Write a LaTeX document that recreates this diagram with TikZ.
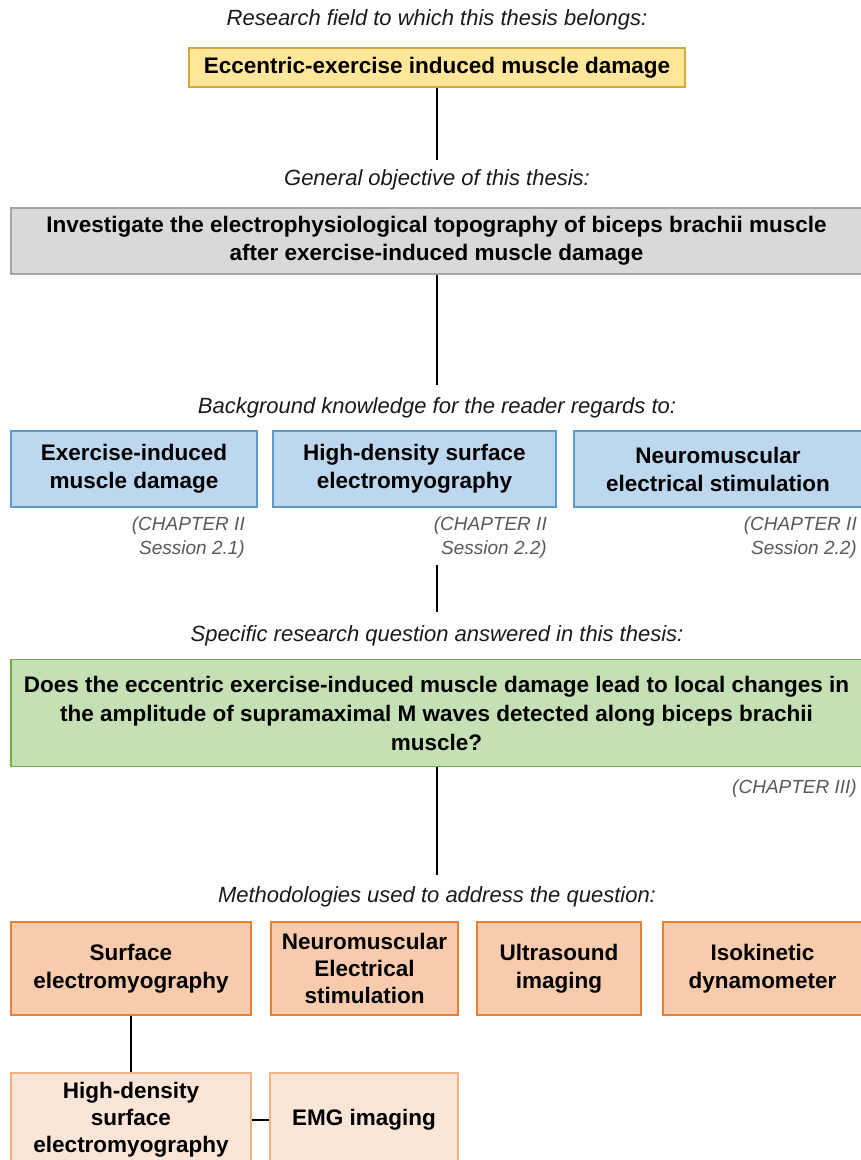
\documentclass[tikz,border=0pt]{standalone}
\usepackage{fontspec}
\setmainfont{Liberation Sans}
\definecolor{yfill}{HTML}{FFE699}
\definecolor{ydraw}{HTML}{D6A83A}
\definecolor{gfill}{HTML}{D9D9D9}
\definecolor{gdraw}{HTML}{A5A5A5}
\definecolor{bfill}{HTML}{BDD7EE}
\definecolor{bdraw}{HTML}{5B9BD5}
\definecolor{grfill}{HTML}{C5E0B4}
\definecolor{grdraw}{HTML}{70AD47}
\definecolor{ofill}{HTML}{F8CBAD}
\definecolor{odraw}{HTML}{ED7D31}
\definecolor{lfill}{HTML}{FBE5D6}
\definecolor{ldraw}{HTML}{F4B183}
\definecolor{labcol}{HTML}{1A1A1A}
\definecolor{chcol}{HTML}{595959}
\begin{document}
\begin{tikzpicture}[x=1pt,y=-1pt,
  box/.style={draw, line width=1.3pt, inner sep=0pt, align=center,
    font=\bfseries\fontsize{22.5}{28}\selectfont},
  lab/.style={inner sep=0pt, text=labcol, font=\itshape\fontsize{22}{24}\selectfont},
  chap/.style={inner sep=0pt, align=right, anchor=north east, text=chcol,
    font=\itshape\fontsize{19}{24}\selectfont},
  conn/.style={line width=2pt, black}]
\useasboundingbox (0,0) rectangle (861,1160);
\fill[white] (0,0) rectangle (861,1160);

\node[lab] (lab1) at (437,20) {Research field to which this thesis belongs:};
\node[box, fill=yfill, draw=ydraw, minimum width=496pt, minimum height=39pt] (field) at (437,67.5) {Eccentric-exercise induced muscle damage};

\node[lab] (lab2) at (437,180) {General objective of this thesis:};
\node[box, fill=gfill, draw=gdraw, minimum width=851pt, minimum height=66pt] (obj) at (436.5,241) {Investigate the electrophysiological topography of biceps brachii muscle\\after exercise-induced muscle damage};

\node[lab] (lab3) at (437,408) {Background knowledge for the reader regards to:};
\node[box, fill=bfill, draw=bdraw, minimum width=246pt, minimum height=76pt] (bg1) at (134,469) {Exercise-induced\\muscle damage};
\node[box, fill=bfill, draw=bdraw, minimum width=283pt, minimum height=76pt] (bg2) at (414.5,469) {High-density surface\\electromyography};
\node[box, fill=bfill, draw=bdraw, minimum width=288pt, minimum height=76pt] (bg3) at (718,469) {Neuromuscular\\electrical stimulation};

\node[chap] (ch1) at (245,517) {(CHAPTER II\\Session 2.1)};
\node[chap] (ch2) at (547,517) {(CHAPTER II\\Session 2.2)};
\node[chap] (ch3) at (857,517) {(CHAPTER II\\Session 2.2)};

\node[lab] (lab4) at (437,636) {Specific research question answered in this thesis:};
\node[box, fill=grfill, draw=grdraw, minimum width=851pt, minimum height=107pt, font=\bfseries\fontsize{22.5}{29}\selectfont] (q) at (436.5,713) {Does the eccentric exercise-induced muscle damage lead to local changes in\\the amplitude of supramaximal M waves detected along biceps brachii\\muscle?};
\node[chap] (ch4) at (857,780) {(CHAPTER III)};

\node[lab] (lab5) at (437,897) {Methodologies used to address the question:};
\node[box, fill=ofill, draw=odraw, minimum width=240pt, minimum height=93pt] (m1) at (131,968.5) {Surface\\electromyography};
\node[box, fill=ofill, draw=odraw, minimum width=187pt, minimum height=93pt, font=\bfseries\fontsize{22.5}{27}\selectfont] (m2) at (364.5,968.5) {Neuromuscular\\Electrical\\stimulation};
\node[box, fill=ofill, draw=odraw, minimum width=164pt, minimum height=93pt] (m3) at (559,968.5) {Ultrasound\\imaging};
\node[box, fill=ofill, draw=odraw, minimum width=199pt, minimum height=93pt] (m4) at (762.5,968.5) {Isokinetic\\dynamometer};

\node[box, fill=lfill, draw=ldraw, minimum width=240pt, minimum height=94pt, font=\bfseries\fontsize{22.5}{27}\selectfont] (h1) at (131,1120) {High-density\\surface\\electromyography};
\node[box, fill=lfill, draw=ldraw, minimum width=188pt, minimum height=94pt] (h2) at (364,1120) {EMG imaging};

\coordinate (c0) at (437,160);
\coordinate (c1) at (437,385);
\coordinate (c2) at (437,565);
\coordinate (c3) at (437,612);
\coordinate (c4) at (437,875);

\draw[conn] (field.south -| c0) -- (c0);
\draw[conn] (obj.south -| c1) -- (c1);
\draw[conn] (c2) -- (c3);
\draw[conn] (q.south -| c4) -- (c4);
\draw[conn] (m1.south) -- (h1.north);
\draw[conn] (h1.east) -- (h2.west);
\end{tikzpicture}
\end{document}
